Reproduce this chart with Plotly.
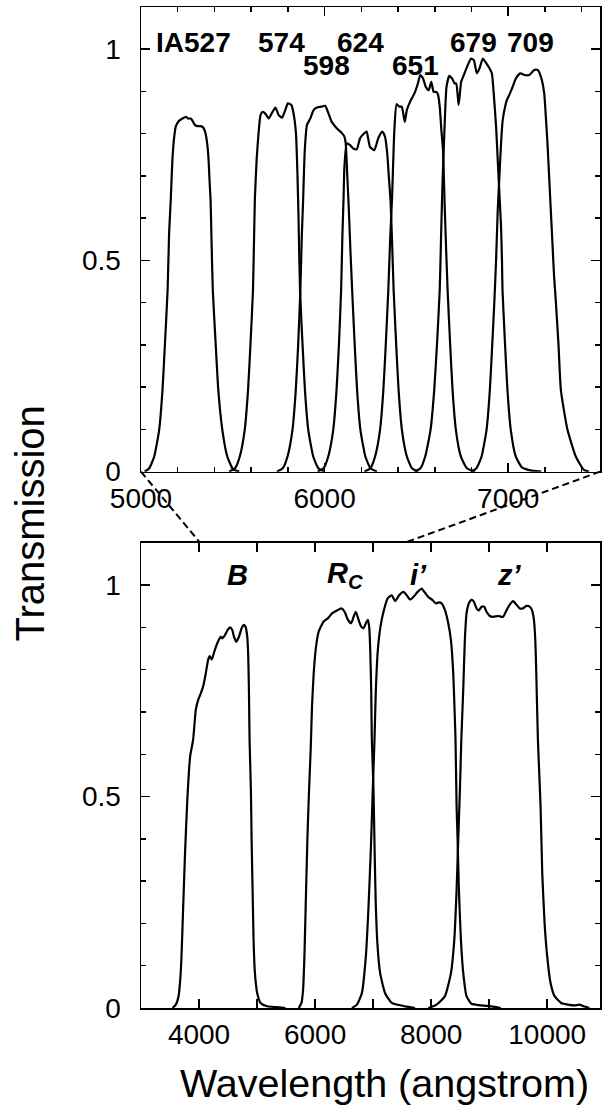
import plotly.graph_objects as go

# ---------------- data: top panel (intermediate-band filters) ----------------
ia527_wl = [5020, 5045, 5072, 5099, 5117, 5130, 5145, 5153, 5162, 5171, 5181, 5190, 5208, 5226, 5244, 5258,
            5271, 5280, 5293, 5307, 5325, 5338, 5349, 5358, 5367, 5374, 5379, 5384, 5391, 5407, 5421, 5443,
            5470, 5501, 5535]
ia527_tr = [0.0, 0.008, 0.036, 0.099, 0.193, 0.30, 0.43, 0.564, 0.643, 0.738, 0.793, 0.818, 0.831, 0.836,
            0.840, 0.836, 0.836, 0.831, 0.821, 0.818, 0.818, 0.815, 0.805, 0.785, 0.746, 0.683, 0.643, 0.55,
            0.43, 0.30, 0.193, 0.099, 0.036, 0.006, 0.0]

ia574_wl = [5480, 5512, 5538, 5565, 5583, 5596, 5610, 5620, 5630, 5640, 5651, 5663, 5678, 5696, 5714, 5732,
            5750, 5768, 5786, 5800, 5819, 5831, 5844, 5852, 5858, 5866, 5880, 5893, 5911, 5938, 5966, 6000]
ia574_tr = [0.0, 0.008, 0.036, 0.099, 0.193, 0.30, 0.43, 0.643, 0.74, 0.80, 0.844, 0.852, 0.847, 0.836,
            0.850, 0.862, 0.844, 0.838, 0.856, 0.872, 0.868, 0.848, 0.801, 0.706, 0.60, 0.43, 0.30, 0.193,
            0.099, 0.036, 0.008, 0.0]

ia598_wl = [5740, 5772, 5798, 5825, 5843, 5856, 5868, 5876, 5883, 5892, 5904, 5922, 5940, 5958, 5982, 6003,
            6021, 6039, 6066, 6093, 6108, 6115, 6123, 6132, 6141, 6150, 6164, 6177, 6195, 6222, 6250, 6285]
ia598_tr = [0.0, 0.008, 0.036, 0.099, 0.193, 0.30, 0.43, 0.56, 0.643, 0.761, 0.821, 0.836, 0.856, 0.862,
            0.864, 0.866, 0.848, 0.828, 0.813, 0.802, 0.793, 0.777, 0.706, 0.62, 0.52, 0.43, 0.30, 0.193,
            0.099, 0.036, 0.008, 0.0]

ia624_wl = [5962, 5994, 6020, 6047, 6065, 6078, 6090, 6097, 6103, 6108, 6121, 6139, 6157, 6175, 6193, 6216,
            6229, 6247, 6271, 6292, 6314, 6329, 6341, 6350, 6359, 6367, 6376, 6390, 6403, 6421, 6448, 6476,
            6510]
ia624_tr = [0.0, 0.008, 0.036, 0.099, 0.193, 0.30, 0.43, 0.56, 0.643, 0.722, 0.777, 0.773, 0.765, 0.763,
            0.789, 0.801, 0.805, 0.769, 0.761, 0.789, 0.805, 0.793, 0.754, 0.698, 0.643, 0.55, 0.43, 0.30,
            0.193, 0.099, 0.036, 0.008, 0.0]

ia651_wl = [6217, 6249, 6275, 6302, 6320, 6333, 6347, 6357, 6367, 6380, 6392, 6407, 6420, 6437, 6448, 6466,
            6490, 6508, 6521, 6536, 6551, 6567, 6581, 6594, 6609, 6618, 6627, 6636, 6645, 6652, 6660, 6670,
            6684, 6697, 6715, 6742, 6775, 6820]
ia651_tr = [0.0, 0.008, 0.036, 0.099, 0.193, 0.30, 0.43, 0.55, 0.643, 0.809, 0.870, 0.864, 0.864, 0.828,
            0.856, 0.876, 0.896, 0.919, 0.939, 0.931, 0.911, 0.903, 0.923, 0.899, 0.899, 0.892, 0.864, 0.809,
            0.761, 0.66, 0.55, 0.43, 0.30, 0.193, 0.099, 0.036, 0.008, 0.0]

ia679_wl = [6490, 6522, 6548, 6577, 6597, 6612, 6627, 6634, 6642, 6652, 6664, 6679, 6694, 6708, 6717, 6730,
            6744, 6762, 6780, 6798, 6813, 6829, 6844, 6862, 6880, 6898, 6911, 6921, 6934, 6943, 6952, 6961,
            6966, 6969, 6983, 6996, 7014, 7041, 7075, 7120, 7180]
ia679_tr = [0.0, 0.008, 0.036, 0.099, 0.193, 0.30, 0.43, 0.55, 0.68, 0.80, 0.911, 0.937, 0.931, 0.919,
            0.919, 0.868, 0.923, 0.943, 0.963, 0.978, 0.974, 0.943, 0.955, 0.978, 0.967, 0.955, 0.943, 0.896,
            0.817, 0.738, 0.659, 0.580, 0.501, 0.43, 0.30, 0.193, 0.099, 0.036, 0.010, 0.003, 0.0]

ia709_wl = [6797, 6827, 6855, 6882, 6900, 6913, 6925, 6934, 6943, 6952, 6961, 6970, 6983, 6993, 7006, 7024,
            7042, 7066, 7088, 7115, 7142, 7160, 7178, 7196, 7205, 7214, 7223, 7232, 7241, 7250, 7259, 7274,
            7287, 7323, 7368, 7412, 7440]
ia709_tr = [0.0, 0.008, 0.036, 0.099, 0.193, 0.30, 0.406, 0.501, 0.619, 0.698, 0.777, 0.832, 0.864, 0.880,
            0.892, 0.911, 0.931, 0.943, 0.939, 0.939, 0.951, 0.951, 0.935, 0.896, 0.840, 0.777, 0.698, 0.619,
            0.540, 0.462, 0.406, 0.30, 0.193, 0.099, 0.036, 0.004, 0.0]

top_label_text = ["IA527", "574", "598", "624", "651", "679", "709"]
top_label_wl = [5284, 5764, 6010, 6195, 6496, 6810, 7119]
top_label_tr = [1.017, 1.017, 0.961, 1.017, 0.961, 1.017, 1.017]

# ---------------- data: bottom panel (broad-band filters) ----------------
b_wl = [3544, 3601, 3647, 3676, 3698, 3727, 3761, 3801, 3847, 3898, 3944, 3984, 4030, 4070, 4116, 4156,
        4184, 4219, 4264, 4316, 4373, 4402, 4448, 4493, 4533, 4573, 4602, 4642, 4688, 4734, 4774, 4803,
        4831, 4848, 4860, 4871, 4894, 4906, 4923, 4940, 4963, 5003, 5060, 5175, 5347, 5490]
b_tr = [0.0, 0.008, 0.028, 0.067, 0.122, 0.240, 0.374, 0.500, 0.595, 0.634, 0.705, 0.728, 0.744, 0.760,
        0.791, 0.823, 0.832, 0.824, 0.843, 0.863, 0.878, 0.874, 0.882, 0.894, 0.900, 0.894, 0.878, 0.866,
        0.878, 0.898, 0.906, 0.901, 0.878, 0.831, 0.752, 0.634, 0.516, 0.398, 0.280, 0.161, 0.083, 0.035,
        0.012, 0.004, 0.002, 0.0]

rc_wl = [5719, 5765, 5793, 5816, 5838, 5867, 5896, 5924, 5947, 5976, 6016, 6062, 6148, 6223, 6291, 6377,
         6452, 6509, 6566, 6623, 6663, 6703, 6749, 6795, 6835, 6875, 6909, 6932, 6949, 6967, 6978, 7006,
         7025, 7045, 7075, 7121, 7207, 7321, 7550, 7722]
rc_tr = [0.0, 0.012, 0.043, 0.122, 0.240, 0.398, 0.516, 0.610, 0.713, 0.791, 0.854, 0.890, 0.914, 0.922,
         0.933, 0.940, 0.945, 0.937, 0.918, 0.910, 0.925, 0.937, 0.918, 0.902, 0.898, 0.910, 0.918, 0.902,
         0.854, 0.752, 0.634, 0.52, 0.38, 0.25, 0.15, 0.083, 0.035, 0.012, 0.004, 0.0]

ip_wl = [6635, 6721, 6806, 6875, 6921, 6962, 6995, 7024, 7047, 7081, 7127, 7179, 7253, 7322, 7379, 7448,
         7522, 7579, 7636, 7694, 7768, 7837, 7883, 7951, 8020, 8078, 8135, 8181, 8238, 8295, 8341, 8381,
         8405, 8420, 8439, 8456, 8478, 8513, 8553, 8610, 8696, 8868, 9040, 9154, 9200]
ip_tr = [0.0, 0.008, 0.035, 0.122, 0.24, 0.38, 0.52, 0.634, 0.752, 0.846, 0.902, 0.937, 0.969, 0.976, 0.962,
         0.976, 0.984, 0.976, 0.966, 0.972, 0.984, 0.992, 0.984, 0.972, 0.965, 0.957, 0.959, 0.957, 0.941,
         0.910, 0.870, 0.791, 0.70, 0.634, 0.476, 0.398, 0.280, 0.161, 0.083, 0.028, 0.010, 0.006, 0.004,
         0.001, 0.0]

zp_wl = [7952, 8094, 8238, 8342, 8399, 8439, 8467, 8496, 8520, 8553, 8581, 8610, 8650, 8696, 8736, 8782,
         8822, 8868, 8914, 8954, 9011, 9068, 9154, 9240, 9297, 9355, 9412, 9469, 9526, 9584, 9641, 9698,
         9738, 9772, 9795, 9812, 9840, 9886, 9915, 9955, 10000, 10058, 10127, 10241, 10356, 10470, 10556,
         10630, 10727]
zp_tr = [0.0, 0.008, 0.028, 0.083, 0.161, 0.280, 0.398, 0.516, 0.634, 0.752, 0.870, 0.933, 0.957, 0.965,
         0.961, 0.945, 0.940, 0.949, 0.949, 0.937, 0.927, 0.925, 0.927, 0.925, 0.940, 0.954, 0.962, 0.954,
         0.945, 0.945, 0.951, 0.949, 0.941, 0.917, 0.870, 0.791, 0.634, 0.476, 0.319, 0.201, 0.122, 0.059,
         0.028, 0.012, 0.008, 0.006, 0.008, 0.004, 0.0]

bottom_label_text = ["<b><i>B</i></b>", "<b><i>R<sub>C</sub></i></b>", "<b><i>i’</i></b>", "<b><i>z’</i></b>"]
bottom_label_wl = [4662, 6521, 7783, 9354]
bottom_label_tr = [1.025, 1.025, 1.025, 1.025]

# zoom connector: top-panel wavelengths -> bottom-panel wavelengths
zoom_top_wl = [5000, 7500]
zoom_bottom_wl = [4020, 7540]

# ---------------- figure ----------------
TOP_X = [5000, 7500]
BOT_X = [3000, 10910]
Y_RANGE = [0, 1.1]
TOP_DOM = [0.5358, 1.0]
BOT_DOM = [0.0, 0.4647]
FONT = "Liberation Sans, Arial, sans-serif"

fig = go.Figure()
line = dict(color="black", width=2.2, shape="spline", smoothing=0.5)

for wl, tr in [(ia527_wl, ia527_tr), (ia574_wl, ia574_tr), (ia598_wl, ia598_tr), (ia624_wl, ia624_tr),
               (ia651_wl, ia651_tr), (ia679_wl, ia679_tr), (ia709_wl, ia709_tr)]:
    fig.add_trace(go.Scatter(x=wl, y=tr, mode="lines", line=line, xaxis="x", yaxis="y",
                             showlegend=False, hoverinfo="skip"))

for wl, tr in [(b_wl, b_tr), (rc_wl, rc_tr), (ip_wl, ip_tr), (zp_wl, zp_tr)]:
    fig.add_trace(go.Scatter(x=wl, y=tr, mode="lines", line=line, xaxis="x2", yaxis="y2",
                             showlegend=False, hoverinfo="skip"))

common = dict(showline=True, linecolor="black", linewidth=1.5, mirror="ticks", ticks="inside",
              tickcolor="black", tickwidth=1.5, ticklen=9, showgrid=False, zeroline=False,
              tickfont=dict(family=FONT, size=28, color="black"))

fig.update_layout(
    width=603, height=1110,
    margin=dict(l=141, r=1, t=7, b=102),
    paper_bgcolor="white", plot_bgcolor="white",
    xaxis=dict(domain=[0, 1], range=TOP_X, anchor="y", tickmode="linear", tick0=5000, dtick=1000,
               ticklabelstandoff=1, tickformat="d",
               minor=dict(ticks="inside", ticklen=5, tickwidth=1.5, tickcolor="black", tick0=5000, dtick=200),
               **common),
    yaxis=dict(domain=TOP_DOM, range=Y_RANGE, anchor="x", tickmode="linear", tick0=0, dtick=0.5,
               ticklabelstandoff=13,
               minor=dict(ticks="inside", ticklen=5, tickwidth=1.5, tickcolor="black", tick0=0, dtick=0.1),
               **common),
    xaxis2=dict(domain=[0, 1], range=BOT_X, anchor="y2", tickmode="linear", tick0=0, dtick=2000,
                ticklabelstandoff=1, tickformat="d",
                minor=dict(ticks="inside", ticklen=9, tickwidth=1.5, tickcolor="black", tick0=0, dtick=1000),
                **common),
    yaxis2=dict(domain=BOT_DOM, range=Y_RANGE, anchor="x2", tickmode="linear", tick0=0, dtick=0.5,
                ticklabelstandoff=13,
                minor=dict(ticks="inside", ticklen=5, tickwidth=1.5, tickcolor="black", tick0=0, dtick=0.1),
                **common),
)

annotations = []
for t, x, y in zip(top_label_text, top_label_wl, top_label_tr):
    annotations.append(dict(text="<b>%s</b>" % t, x=x, y=y, xref="x", yref="y", showarrow=False,
                            xanchor="center", yanchor="middle",
                            font=dict(family=FONT, size=28, color="black")))
for t, x, y in zip(bottom_label_text, bottom_label_wl, bottom_label_tr):
    annotations.append(dict(text=t, x=x, y=y, xref="x2", yref="y2", showarrow=False,
                            xanchor="center", yanchor="middle",
                            font=dict(family=FONT, size=29, color="black")))
annotations.append(dict(text="Transmission", x=-0.2408, y=0.4845, xref="paper", yref="paper",
                        showarrow=False, textangle=-90, xanchor="center", yanchor="middle",
                        font=dict(family=FONT, size=40, color="black")))
annotations.append(dict(text="Wavelength (angstrom)", x=0.531, y=-0.0749, xref="paper", yref="paper",
                        showarrow=False, xanchor="center", yanchor="middle",
                        font=dict(family=FONT, size=39.5, color="black")))
fig.update_layout(annotations=annotations)


def to_paper(wl, tr, xr, dom):
    px = (wl - xr[0]) / (xr[1] - xr[0])
    py = dom[0] + (tr - Y_RANGE[0]) / (Y_RANGE[1] - Y_RANGE[0]) * (dom[1] - dom[0])
    return px, py


for wt, wb in zip(zoom_top_wl, zoom_bottom_wl):
    x0, y0 = to_paper(wt, 0.0, TOP_X, TOP_DOM)
    x1, y1 = to_paper(wb, 1.1, BOT_X, BOT_DOM)
    fig.add_shape(type="line", x0=x0, y0=y0, x1=x1, y1=y1, xref="paper", yref="paper",
                  line=dict(color="black", width=2, dash="7px,4px"))

fig.write_html("out.html", config={"displayModeBar": False, "staticPlot": True},
               post_script="document.body.style.margin='0px';document.body.style.overflow='hidden';")
